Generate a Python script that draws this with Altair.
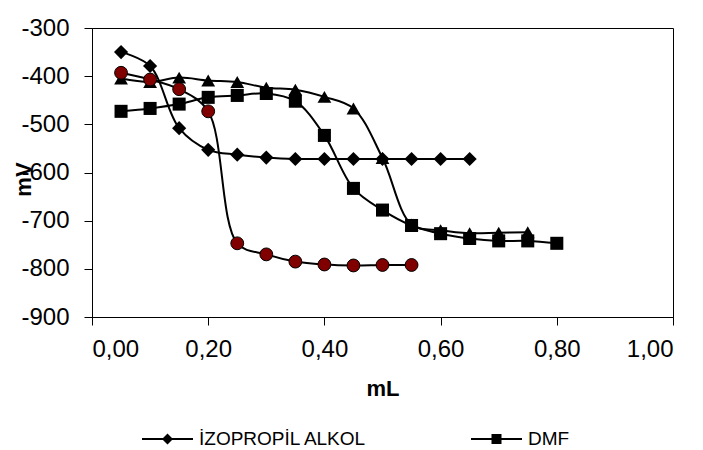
import altair as alt
import pandas as pd

# ---- data ----
iso_x = [0.05, 0.10, 0.15, 0.20, 0.25, 0.30, 0.35, 0.40, 0.45, 0.50, 0.55, 0.60, 0.65]
iso_y = [-350, -379, -508, -553, -563, -569, -572, -572, -572, -572, -572, -572, -572]

dmf_x = [0.05, 0.10, 0.15, 0.20, 0.25, 0.30, 0.35, 0.40, 0.45, 0.50, 0.55, 0.60, 0.65, 0.70, 0.75, 0.80]
dmf_y = [-473, -467, -458, -444, -440, -436, -452, -523, -633, -678, -710, -727, -737, -742, -742, -747]

tri_x = [0.05, 0.10, 0.15, 0.20, 0.25, 0.30, 0.35, 0.40, 0.45, 0.50, 0.55, 0.60, 0.65, 0.70, 0.75]
tri_y = [-405, -412, -403, -409, -412, -424, -428, -443, -467, -570, -708, -720, -726, -725, -724]

cir_x = [0.05, 0.10, 0.15, 0.20, 0.25, 0.30, 0.35, 0.40, 0.45, 0.50, 0.55]
cir_y = [-393, -407, -427, -473, -747, -770, -785, -791, -793, -792, -792]

names = ["İZOPROPİL ALKOL", "DMF", "Seri 3", "Seri 4"]
legend_names = ["İZOPROPİL ALKOL", "DMF"]

x_ticks = [0.0, 0.2, 0.4, 0.6, 0.8, 1.0]
y_ticks = [-900, -800, -700, -600, -500, -400, -300]

rows = []
for name, xs, ys in [(names[0], iso_x, iso_y), (names[1], dmf_x, dmf_y),
                     (names[2], tri_x, tri_y), (names[3], cir_x, cir_y)]:
    for a, b in zip(xs, ys):
        rows.append({"series": name, "mL": a, "mV": b})
df = pd.DataFrame(rows)

FONT = "Liberation Sans"

xenc = alt.X("mL:Q", scale=alt.Scale(domain=[0, 1], nice=False),
             axis=alt.Axis(values=x_ticks, title="mL",
                           labelExpr="replace(format(datum.value, '.2f'), '.', ',')"))
yenc = alt.Y("mV:Q", scale=alt.Scale(domain=[-900, -300], nice=False),
             axis=alt.Axis(values=y_ticks, title="mV", labelExpr="datum.value + ''",
                           titleX=-62, titleY=151, titleBaseline="alphabetic"))

base = alt.Chart(df)


def series_layers(name, shape, size, fill, stroke_w):
    sub = base.transform_filter(alt.datum.series == name)
    line = sub.mark_line(color="black", strokeWidth=2, interpolate="catmull-rom").encode(
        x=xenc, y=yenc, order="mL:Q")
    pts = sub.mark_point(shape=shape, size=size, filled=True, fill=fill, color="black",
                         stroke="black", strokeWidth=stroke_w, opacity=1).encode(x=xenc, y=yenc)
    return [line, pts]


layers = []
layers += series_layers(names[0], "diamond", 200, "black", 0)
layers += series_layers(names[2], "triangle-up", 190, "black", 0)
layers += series_layers(names[1], "square", 170, "black", 0)
layers += series_layers(names[3], "circle", 165, "#800000", 1)

# legend glyphs: a short line segment with the series marker in its middle
diamond_path = "M-2.55,-0.1H2.55V0.1H-2.55ZM0,-0.55L0.55,0L0,0.55L-0.55,0Z"
square_path = "M-2.55,-0.1H2.55V0.1H-2.55ZM-0.5,-0.5H0.5V0.5H-0.5Z"

legend_layer = base.transform_filter(
    alt.FieldOneOfPredicate(field="series", oneOf=legend_names)
).mark_point(filled=True, color="black", opacity=0, size=400).encode(
    x=xenc, y=yenc,
    shape=alt.Shape("series:N",
                    scale=alt.Scale(domain=legend_names, range=[diamond_path, square_path]),
                    legend=alt.Legend(title=None, orient="none", legendX=65.5, legendY=401,
                                      direction="horizontal", columns=2, padding=0,
                                      columnPadding=103, labelOffset=21.5, labelLimit=400,
                                      symbolOpacity=1, symbolSize=400,
                                      symbolFillColor="black", symbolStrokeColor="black",
                                      symbolStrokeWidth=0, labelFontSize=19, labelFont=FONT,
                                      labelColor="black", values=legend_names))
)

chart = alt.layer(*layers, legend_layer).properties(
    width=581, height=289,
    autosize=alt.AutoSizeParams(type="none"),
    padding={"left": 92, "top": 28, "right": 30, "bottom": 133},
).configure_view(
    stroke="black", strokeWidth=1
).configure_axis(
    grid=False, domainColor="black", tickColor="black", tickSize=8,
    labelFont=FONT, labelFontSize=24, labelColor="black",
    titleFont=FONT, titleFontSize=22, titleFontWeight="bold", titleColor="black",
).configure_axisX(
    labelPadding=12, titlePadding=17
).configure_axisY(
    labelPadding=15
)

chart.save("out.html", embed_options={"renderer": "svg", "actions": False})
